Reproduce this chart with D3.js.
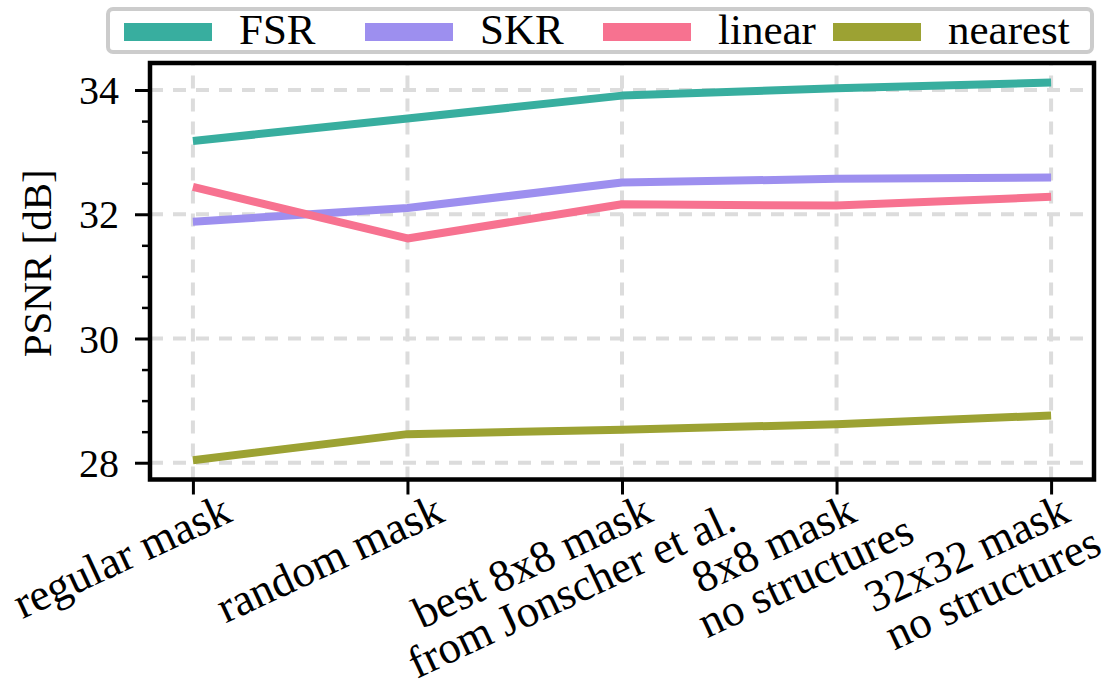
<!DOCTYPE html>
<html><head><meta charset="utf-8">
<script src="https://cdn.jsdelivr.net/npm/d3@7"></script>
<style>
body{margin:0;background:#fff}
svg text{font-family:"Liberation Serif","Times New Roman","Nimbus Roman","DejaVu Serif",serif !important;}
</style></head>
<body>
<svg id="c" width="1115" height="684"></svg>
<script>
// ---- data ----
const categories = [
  ["regular mask"],
  ["random mask"],
  ["best 8x8 mask", "from Jonscher et al."],
  ["8x8 mask", "no structures"],
  ["32x32 mask", "no structures"]
];
const seriesNames = ["FSR", "SKR", "linear", "nearest"];
const fsrValues     = [33.18, 33.54, 33.91, 34.03, 34.12];
const skrValues     = [31.88, 32.10, 32.51, 32.57, 32.59];
const linearValues  = [32.44, 31.61, 32.16, 32.14, 32.28];
const nearestValues = [28.04, 28.46, 28.53, 28.62, 28.76];
const yMajorTicks = [28, 30, 32, 34];
const yMinorTicks = [28.5, 29, 29.5, 30.5, 31, 31.5, 32.5, 33, 33.5];
const yLabel = "PSNR [dB]";

const colors = ["#38ae9f", "#9d8fef", "#f77290", "#9ca233"];
const series = [fsrValues, skrValues, linearValues, nearestValues];

// ---- layout ----
const L = 150, R = 1094, T = 63, B = 479.5;
const svg = d3.select("#c");
svg.append("rect").attr("width", 1115).attr("height", 684).attr("fill", "#fff");

const x = d3.scaleLinear().domain([-0.2, 4.2]).range([L, R]);
const y = d3.scaleLinear().domain([27.73, 34.435]).range([B, T]);
const idx = d3.range(categories.length);

// grid
const grid = svg.append("g").attr("stroke", "#dcdcdc").attr("stroke-width", 4)
  .attr("stroke-dasharray", "13,10").attr("fill", "none");
grid.selectAll("line.v").data(idx).join("line").attr("class", "v")
  .attr("x1", d => x(d)).attr("x2", d => x(d)).attr("y1", B).attr("y2", T);
grid.selectAll("line.h").data(yMajorTicks).join("line").attr("class", "h")
  .attr("x1", L).attr("x2", R).attr("y1", d => y(d)).attr("y2", d => y(d));

// lines
const line = d3.line().x((d, i) => x(i)).y(d => y(d));
svg.append("g").selectAll("path").data(series).join("path")
  .attr("d", d => line(d)).attr("fill", "none")
  .attr("stroke", (d, i) => colors[i]).attr("stroke-width", 8)
  .attr("stroke-linejoin", "round").attr("stroke-linecap", "butt");

// y axis major
const yAxis = svg.append("g").attr("transform", `translate(${L},0)`)
  .call(d3.axisLeft(y).tickValues(yMajorTicks).tickSize(15).tickPadding(16).tickFormat(d3.format("d")));
yAxis.select(".domain").remove();
yAxis.selectAll(".tick line").attr("stroke", "#000").attr("stroke-width", 3);
yAxis.selectAll(".tick text").attr("font-size", 40).attr("fill", "#000").attr("dy", "0.34em");
// y axis minor
const yMinor = svg.append("g").attr("transform", `translate(${L},0)`)
  .call(d3.axisLeft(y).tickValues(yMinorTicks).tickSize(8).tickFormat(""));
yMinor.select(".domain").remove();
yMinor.selectAll(".tick line").attr("stroke", "#000").attr("stroke-width", 2.5);

// x axis ticks
const xAxis = svg.append("g").attr("transform", `translate(0,${B})`)
  .call(d3.axisBottom(x).tickValues(idx).tickSize(15).tickFormat(""));
xAxis.select(".domain").remove();
xAxis.selectAll(".tick line").attr("stroke", "#000").attr("stroke-width", 3);

// x labels (rotated, multi-line)
const labelDx = [41, 39, 33, 22, 21];      // offset of first-line end from tick
const line2Shift = [0, 0, 72, 44, 15];     // along-text shift of second-line end
const labelG = svg.append("g").attr("font-size", 45).attr("fill", "#000");
idx.forEach(i => {
  const g = labelG.append("g").attr("transform", `translate(${x(i) + labelDx[i]},${B + 41}) rotate(-25)`);
  categories[i].forEach((t, k) => {
    g.append("text").attr("x", k === 0 ? 0 : line2Shift[i]).attr("y", k * 43)
      .attr("text-anchor", "end").text(t);
  });
});

// y label
svg.append("text").attr("transform", `translate(51,${(T + B) / 2 - 8}) rotate(-90)`)
  .attr("text-anchor", "middle").attr("font-size", 41).text(yLabel);

// frame
svg.append("rect").attr("x", L).attr("y", T).attr("width", R - L).attr("height", B - T)
  .attr("fill", "none").attr("stroke", "#000").attr("stroke-width", 4.5);

// legend
const legend = svg.append("g");
legend.append("rect").attr("x", 108).attr("y", 9).attr("width", 984).attr("height", 43)
  .attr("rx", 5).attr("fill", "#fff").attr("fill-opacity", 0.8)
  .attr("stroke", "#cccccc").attr("stroke-width", 4);
const legendX = [124, 365, 603, 833];
seriesNames.forEach((n, i) => {
  legend.append("line").attr("x1", legendX[i]).attr("x2", legendX[i] + 88)
    .attr("y1", 32).attr("y2", 32).attr("stroke", colors[i]).attr("stroke-width", 18);
  legend.append("text").attr("x", legendX[i] + 115).attr("y", 44)
    .attr("font-size", 43).text(n);
});
</script>
</body></html>
